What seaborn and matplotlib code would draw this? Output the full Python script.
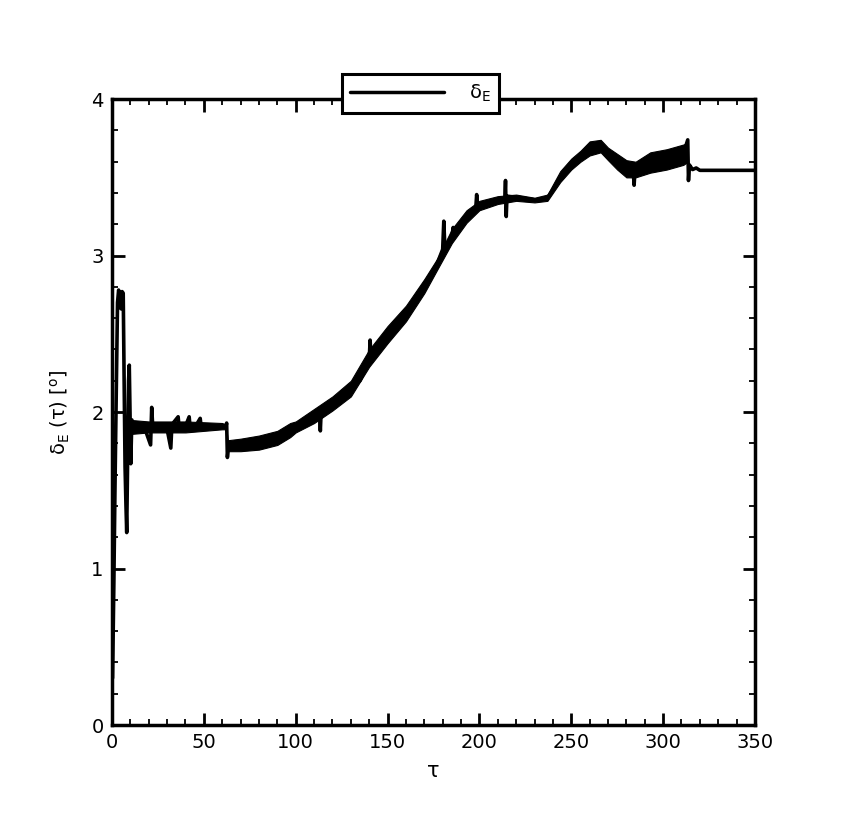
import matplotlib
matplotlib.use("Agg")
import matplotlib.pyplot as plt
import numpy as np
import pandas as pd
import seaborn as sns
from matplotlib.ticker import MultipleLocator

# elevator deflection trace (tau, deg)
tau = [
    0.3, 1.0, 1.6, 2.4, 3.0, 3.6, 4.3, 4.9, 5.5, 6.1, 6.6, 7.1, 7.6, 8.0, 8.5,
    9.0, 9.4, 9.8, 10.2, 10.8, 12, 15, 18, 21, 21.6, 22.2, 26, 30, 32, 32.6,
    36, 36.6, 40, 42, 42.6, 46, 48, 48.6, 55, 62, 62.4, 62.8, 63.4, 70, 80,
    90, 97, 102, 110, 113, 113.4, 113.8, 120, 124, 130, 135, 140, 140.5, 141,
    150, 160, 169, 176.7, 180, 180.6, 181.2, 185, 185.7, 186.3, 193, 198,
    198.5, 199, 205, 209, 213.8, 214.2, 214.6, 215, 222, 231, 237, 240, 244,
    249, 255, 260, 265.6, 269, 273, 278, 283.7, 284.2, 284.7, 293, 302, 311,
    313.4, 313.8, 314.3, 316, 318, 320, 324, 350,
]
delta_e = [
    0.30, 0.90, 1.50, 2.20, 2.70, 2.78, 2.74, 2.66, 2.77, 2.76, 2.20, 1.65,
    1.40, 1.23, 1.70, 2.20, 2.30, 2.00, 1.67, 1.95, 1.88, 1.91, 1.89, 1.79,
    2.03, 1.90, 1.91, 1.89, 1.77, 1.92, 1.97, 1.89, 1.91, 1.97, 1.89, 1.92,
    1.96, 1.90, 1.91, 1.91, 1.93, 1.71, 1.78, 1.79, 1.80, 1.84, 1.88, 1.91,
    1.97, 1.99, 1.88, 1.99, 2.06, 2.09, 2.15, 2.20, 2.33, 2.46, 2.34, 2.50,
    2.63, 2.80, 2.94, 3.04, 3.22, 3.05, 3.12, 3.18, 3.13, 3.25, 3.30, 3.39,
    3.31, 3.34, 3.355, 3.36, 3.48, 3.25, 3.38, 3.37, 3.355, 3.37, 3.42, 3.50,
    3.58, 3.635, 3.68, 3.70, 3.65, 3.64, 3.56, 3.55, 3.45, 3.55, 3.60, 3.62,
    3.65, 3.74, 3.48, 3.58, 3.55, 3.56, 3.545, 3.545, 3.545,
]

# envelope of the high-frequency oscillation around the trace
band_tau = [
    10, 20, 40, 60, 62, 63, 70, 80, 90, 97, 100, 110, 120, 130, 140, 150,
    160, 170, 177, 185, 193, 200, 210, 220, 230, 237, 244, 250, 255, 260,
    266, 270, 275, 280, 285, 293, 302, 311, 313.5,
]
band_lo = [
    1.86, 1.87, 1.87, 1.89, 1.89, 1.75, 1.75, 1.76, 1.79, 1.84, 1.87, 1.93,
    2.01, 2.10, 2.29, 2.44, 2.58, 2.76, 2.91, 3.08, 3.21, 3.29, 3.33, 3.35,
    3.34, 3.35, 3.47, 3.55, 3.60, 3.64, 3.66, 3.61, 3.55, 3.50, 3.50, 3.53,
    3.55, 3.58, 3.60,
]
band_hi = [
    1.95, 1.94, 1.94, 1.93, 1.92, 1.82, 1.83, 1.85, 1.88, 1.93, 1.94, 2.02,
    2.10, 2.20, 2.40, 2.55, 2.68, 2.85, 2.98, 3.17, 3.29, 3.35, 3.38, 3.39,
    3.37, 3.39, 3.54, 3.62, 3.67, 3.73, 3.74, 3.69, 3.65, 3.61, 3.60, 3.66,
    3.68, 3.71, 3.72,
]

sns.set_style("ticks")
plt.rcParams["font.family"] = ["DejaVu Sans"]
plt.rcParams["mathtext.fontset"] = "dejavusans"
for key in ("axes.edgecolor", "xtick.color", "ytick.color", "text.color",
            "axes.labelcolor", "xtick.labelcolor", "ytick.labelcolor"):
    plt.rcParams[key] = "black"

fig = plt.figure(figsize=(8.59, 8.16), dpi=100)
ax = fig.add_axes([0.1304, 0.1115, 0.7485, 0.767])

ax.fill_between(band_tau, band_lo, band_hi, color="black", linewidth=0.8)
trace = pd.DataFrame({"tau": tau, "delta": delta_e})
sns.lineplot(data=trace, x="tau", y="delta", color="black", linewidth=2.6,
             estimator=None, sort=False, ax=ax,
             label=r"δ$_\mathregular{E}$")

ax.set_xlim(0, 350)
ax.set_ylim(0, 4)
ax.xaxis.set_major_locator(MultipleLocator(50))
ax.xaxis.set_minor_locator(MultipleLocator(10))
ax.yaxis.set_major_locator(MultipleLocator(1))
ax.yaxis.set_minor_locator(MultipleLocator(0.2))
ax.tick_params(which="both", direction="in", top=True, right=True,
               labelsize=14, pad=6, colors="black")
ax.tick_params(which="major", length=9, width=2)
ax.tick_params(which="minor", length=4.5, width=1.3)
for side in ax.spines.values():
    side.set_linewidth(2.5)
    side.set_color("black")
    side.set_visible(True)

ax.set_xlabel("τ", fontsize=15, labelpad=6)
ax.set_ylabel(r"δ$_\mathregular{E}$ (τ) [$^\mathregular{o}$]", fontsize=14,
              labelpad=14)

leg = ax.legend(loc="center", bbox_to_anchor=(0.4895, 0.8854),
                bbox_transform=fig.transFigure, fancybox=False,
                framealpha=1, edgecolor="black", handlelength=4.8,
                fontsize=14, borderpad=0.45, handletextpad=1.3)
leg.get_frame().set_linewidth(2.2)
for h in leg.get_lines():
    h.set_linewidth(2.5)

fig.savefig("out.png", dpi=100)
